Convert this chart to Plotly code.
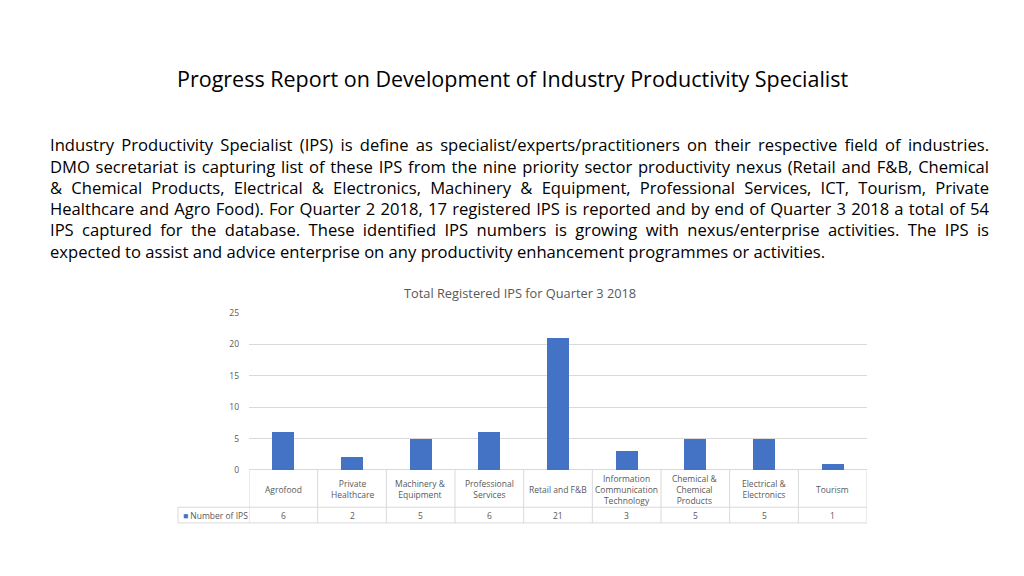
import json
import plotly.graph_objects as go

# ---------------- data ----------------
page_title = "Progress Report on Development of Industry Productivity Specialist"
paragraph_lines = [
    "Industry Productivity Specialist (IPS) is define as specialist/experts/practitioners on their respective field of industries.",
    "DMO secretariat is capturing list of these IPS from the nine priority sector productivity nexus (Retail and F&B, Chemical",
    "& Chemical Products, Electrical & Electronics, Machinery & Equipment, Professional Services, ICT, Tourism, Private",
    "Healthcare and Agro Food). For Quarter 2 2018, 17 registered IPS is reported and by end of Quarter 3 2018 a total of 54",
    "IPS captured for the database. These identified IPS numbers is growing with nexus/enterprise activities. The IPS is",
    "expected to assist and advice enterprise on any productivity enhancement programmes or activities.",
]
chart_title = "Total Registered IPS for Quarter 3 2018"
series_name = "Number of IPS"
categories = ["Agrofood", "Private Healthcare", "Machinery & Equipment", "Professional Services",
              "Retail and F&B", "Information Communication Technology", "Chemical & Chemical Products",
              "Electrical & Electronics", "Tourism"]
category_labels = ["Agrofood", "Private<br>Healthcare", "Machinery &<br>Equipment", "Professional<br>Services",
                   "Retail and F&B", "Information<br>Communication<br>Technology", "Chemical &<br>Chemical<br>Products",
                   "Electrical &<br>Electronics", "Tourism"]
values = [6, 2, 5, 6, 21, 3, 5, 5, 1]
y_ticks = [0, 5, 10, 15, 20, 25]

# ---------------- layout helpers ----------------
W, H = 1024, 576
def px(x):
    return x / W
def py(y):
    return 1 - y / H

BLUE = "#4472C4"
GRAY = "#595959"
LINE = "#D9D9D9"
FONT = "Open Sans"

x_left, x_right = 249, 867
y_top, y_zero = 313, 473
row_mid, row_bot = 511, 527
legend_left = 178
text_left, text_right = 48, 987

fig = go.Figure()
fig.add_trace(go.Bar(
    x=list(range(len(categories))), y=values, name=series_name,
    marker=dict(color=BLUE, line=dict(width=0)), width=0.316,
    hovertext=categories, showlegend=False,
))

annotations = []
# page title
annotations.append(dict(text=page_title, x=px(513), y=py(74), xref="paper", yref="paper",
                        xanchor="center", yanchor="middle", showarrow=False,
                        font=dict(family=FONT, size=21.5, color="#000000")))
# paragraph
for i, line in enumerate(paragraph_lines):
    annotations.append(dict(text=line, x=px(text_left), y=py(141.5 + i * 21.7), xref="paper", yref="paper",
                            xanchor="left", yanchor="middle", align="left", showarrow=False,
                            font=dict(family=FONT, size=16.6, color="#000000")))
# chart title
annotations.append(dict(text=chart_title, x=px(520), y=py(293), xref="paper", yref="paper",
                        xanchor="center", yanchor="middle", showarrow=False,
                        font=dict(family=FONT, size=12.8, color=GRAY)))
# category labels and values (data table)
for i, (lab, v) in enumerate(zip(category_labels, values)):
    annotations.append(dict(text=lab, x=i, y=py((y_zero + row_mid) / 2 + 0.5), xref="x", yref="paper",
                            xanchor="center", yanchor="middle", showarrow=False,
                            font=dict(family=FONT, size=8.5, color=GRAY)))
    annotations.append(dict(text=str(v), x=i, y=py((row_mid + row_bot) / 2), xref="x", yref="paper",
                            xanchor="center", yanchor="middle", showarrow=False,
                            font=dict(family=FONT, size=8.5, color=GRAY)))
# legend key
annotations.append(dict(text='<span style="color:%s">\u25A0</span> %s' % (BLUE, series_name),
                        x=px(181), y=py((row_mid + row_bot) / 2), xref="paper", yref="paper",
                        xanchor="left", yanchor="middle", showarrow=False,
                        font=dict(family=FONT, size=8.5, color=GRAY)))

shapes = []
lw = dict(color=LINE, width=1)
for y in (row_mid, row_bot):
    shapes.append(dict(type="line", xref="paper", yref="paper", x0=px(legend_left), x1=px(x_right),
                       y0=py(y), y1=py(y), line=lw))
for i in range(len(categories) + 1):
    shapes.append(dict(type="line", xref="x", yref="paper", x0=i - 0.5, x1=i - 0.5,
                       y0=py(y_zero), y1=py(row_bot), line=lw))
shapes.append(dict(type="line", xref="paper", yref="paper", x0=px(legend_left), x1=px(legend_left),
                   y0=py(row_mid), y1=py(row_bot), line=lw))

fig.update_layout(
    width=W, height=H, margin=dict(l=0, r=0, t=0, b=0),
    paper_bgcolor="white", plot_bgcolor="white",
    xaxis=dict(domain=[px(x_left), px(x_right)], range=[-0.5, len(categories) - 0.5],
               showticklabels=False, showgrid=False, zeroline=False, showline=False, fixedrange=True),
    yaxis=dict(domain=[py(y_zero), py(y_top)], range=[0, 25], tickvals=y_ticks,
               showgrid=True, gridcolor=LINE, gridwidth=1, zeroline=True, zerolinecolor=LINE,
               zerolinewidth=1, showline=False, ticks="", ticklabelstandoff=9,
               tickfont=dict(family=FONT, size=8.5, color=GRAY), fixedrange=True),
    annotations=annotations, shapes=shapes, showlegend=False, bargap=0,
)

justify_lines = paragraph_lines[:-1]
post_script = """
try {
  document.body.style.margin = '0';
  document.body.style.padding = '0';
  document.body.style.overflow = 'hidden';
  var gd = document.getElementById('{plot_id}');
  var lines = %s;
  var left = %d, right = %d;
  var texts = gd.querySelectorAll('text.annotation-text');
  texts.forEach(function(t) {
    var s = t.textContent;
    if (lines.indexOf(s) < 0) return;
    var n = s.split(' ').length - 1;
    if (n <= 0) return;
    var len = t.getComputedTextLength();
    var extra = ((right - left) - len) / n;
    t.style.wordSpacing = extra + 'px';
  });
} catch (e) {}
""" % (json.dumps(justify_lines), text_left, text_right)

fig.write_html("out.html", post_script=post_script, config={"displayModeBar": False})
